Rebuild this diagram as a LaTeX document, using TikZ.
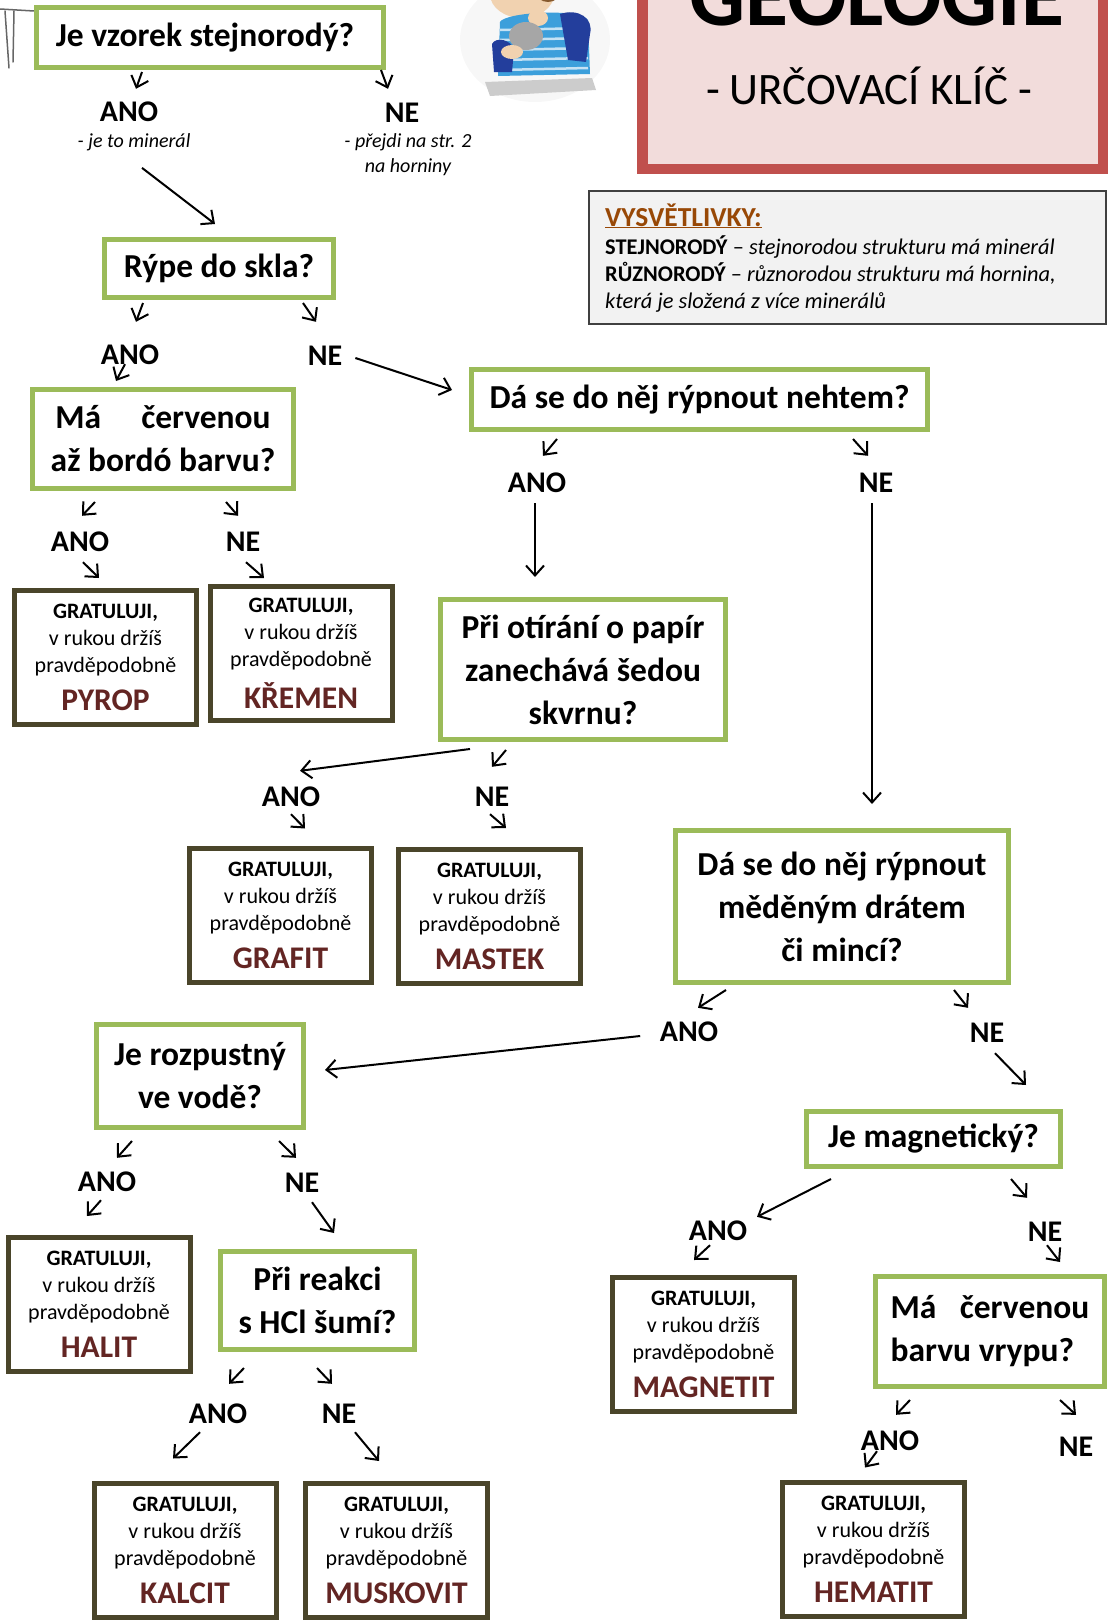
\documentclass[tikz,border=0pt]{standalone}
\usepackage{fontspec}
\setmainfont{Carlito}
\usetikzlibrary{arrows.meta}

\definecolor{qgreen}{HTML}{9BBB59}
\definecolor{resolive}{HTML}{4A452A}
\definecolor{mineral}{HTML}{632523}
\definecolor{titlered}{HTML}{C0504D}
\definecolor{titlepink}{HTML}{F2DCDB}
\definecolor{legendgray}{HTML}{F2F2F2}
\definecolor{legendhead}{HTML}{984806}
\definecolor{shirt}{HTML}{3C9FDB}
\definecolor{sleeve}{HTML}{233E9C}
\definecolor{skin}{HTML}{F1D2B0}

% text of every result box
\newcommand{\gratuluji}[1]{\textbf{GRATULUJI,}\\v rukou držíš\\pravděpodobně\\[11pt]{\bfseries\fontsize{31.5}{36}\selectfont\color{mineral}#1}}

\begin{document}
\begin{tikzpicture}[x=1pt, y=-1pt,
    question/.style={draw=qgreen, line width=5pt, fill=white, align=center, inner sep=0pt,
        font=\bfseries\fontsize{33.5}{43}\selectfont},
    result/.style={draw=resolive, line width=5pt, fill=white, align=center, inner sep=0pt,
        minimum width=182pt, minimum height=134pt, font=\fontsize{22}{27}\selectfont},
    answer/.style={inner sep=0pt, text height=20pt, text depth=0pt, font=\bfseries\fontsize{30}{36}\selectfont},
    note/.style={inner sep=0pt, align=center, font=\itshape\fontsize{20}{25}\selectfont},
    tick/.style={-{Straight Barb[length=10pt,width=18pt]}, line width=2pt}]
\useasboundingbox (0,0) rectangle (1108,1622);

% chair in the corner
\draw[black!60, line width=1.5pt, line cap=round] (0,9) -- (34,11);
\draw[black!60, line width=1.5pt, line cap=round] (5,11) -- (9,68) (14,11) -- (13,62);

% boy with a stone
\fill[black!3] (535,40) ellipse (75 and 62);
\fill[black!20] (485,82) -- (592,78) -- (596,90) -- (490,96) -- cycle;
\fill[skin] (522,-6) ellipse (32 and 24);
\fill[brown!70!black] (548,-8) ellipse (12 and 10);
\fill[shirt] (500,22) .. controls (505,12) and (580,8) .. (588,20) -- (590,74) -- (498,76) -- cycle;
\foreach \y in {30,40,50,60,70}
    \draw[white!70!shirt, line width=2.5pt] (500,\y) -- (588,\y-2);
\fill[sleeve] (492,44) .. controls (496,36) and (512,40) .. (514,50) -- (512,72) -- (494,72) -- cycle;
\fill[sleeve] (560,14) .. controls (578,8) and (594,18) .. (590,34) -- (586,62) -- (568,60) -- cycle;
\fill[skin] (538,18) ellipse (10 and 8);
\fill[black!35] (526,36) ellipse (17 and 14);
\fill[skin] (512,52) ellipse (11 and 7);

% title
\draw[line width=10.5pt, draw=titlered, fill=titlepink] (642.25,-20) rectangle (1102.75,168.75);
\node[anchor=base, inner sep=0pt, font=\bfseries\fontsize{88}{100}\selectfont] (title) at (877,25) {GEOLOGIE};
\node[anchor=base, inner sep=0pt, font=\fontsize{45}{52}\selectfont] (subtitle) at (869,104) {- URČOVACÍ KLÍČ -};

% legend
\draw[line width=2pt, draw=black!75, fill=legendgray] (589,191) rectangle (1106,324);
\node[anchor=base west, inner sep=0pt, text=legendhead, font=\bfseries\fontsize{27.5}{30}\selectfont] (head) at (605,226) {\underline{VYSVĚTLIVKY:}};
\node[anchor=base west, inner sep=0pt, font=\fontsize{22.4}{27}\selectfont] (line1) at (605,254) {\textbf{STEJNORODÝ} – \textit{stejnorodou strukturu má minerál}};
\node[anchor=base west, inner sep=0pt, font=\fontsize{22.4}{27}\selectfont] (line2) at (605,281) {\textbf{RŮZNORODÝ} – \textit{různorodou strukturu má hornina,}};
\node[anchor=base west, inner sep=0pt, font=\fontsize{22.4}{27}\selectfont] (line3) at (605,308) {\textit{která je složená z více minerálů}};

% questions
\node[question, minimum width=347pt, minimum height=60pt] (q1) at (210,37.5) {Je vzorek stejnorodý?\hspace{10pt}};
\node[question, minimum width=229pt, minimum height=58pt] (q2) at (219,268.5) {Rýpe do skla?};
\node[question, minimum width=261pt, minimum height=99pt] (q3) at (163,439) {Má\hspace{1.2em}červenou\\až bordó barvu?};
\node[question, minimum width=456pt, minimum height=60pt] (q4) at (699.5,399.5) {Dá se do něj rýpnout nehtem?};
\node[question, minimum width=285pt, minimum height=140pt] (q5) at (583,669.5) {Při otírání o papír\\zanechává šedou\\skvrnu?};
\node[question, minimum width=333pt, minimum height=152pt] (q6) at (842,906.5) {Dá se do něj rýpnout\\měděným drátem\\či mincí?};
\node[question, minimum width=207pt, minimum height=103pt] (q7) at (200,1076) {Je rozpustný\\ve vodě?};
\node[question, minimum width=194pt, minimum height=98pt] (q8) at (317.5,1300.5) {Při reakci\\s HCl šumí?};
\node[question, minimum width=254pt, minimum height=55pt] (q9) at (933.5,1139) {Je magnetický?};
\node[question, minimum width=229pt, minimum height=110pt, align=left] (q10) at (990,1331.5) {Má\hspace{0.7em}červenou\\barvu vrypu?};

% answers
\node[answer] (a1) at (129,111) {ANO};
\node[answer] (n1) at (402,112) {NE};
\node[note] (a1note) at (134,142) {- je to minerál};
\node[note] (n1note) at (408,155) {- přejdi na str. 2\\na horniny};
\node[answer] (a2) at (130,354) {ANO};
\node[answer] (n2) at (325,355) {NE};
\node[answer] (a3) at (80,541) {ANO};
\node[answer] (n3) at (243,541) {NE};
\node[answer] (a4) at (537,482) {ANO};
\node[answer] (n4) at (876,482) {NE};
\node[answer] (a5) at (291,796) {ANO};
\node[answer] (n5) at (492,796) {NE};
\node[answer] (a6) at (689,1031) {ANO};
\node[answer] (n6) at (987,1032) {NE};
\node[answer] (a7) at (107,1181) {ANO};
\node[answer] (n7) at (302,1182) {NE};
\node[answer] (a8) at (218,1413) {ANO};
\node[answer] (n8) at (339,1413) {NE};
\node[answer] (a9) at (718,1230) {ANO};
\node[answer] (n9) at (1045,1231) {NE};
\node[answer] (a10) at (890,1440) {ANO};
\node[answer] (n10) at (1076,1446) {NE};

% results
\node[result] (pyrop) at (105.5,657.5) {\gratuluji{PYROP}};
\node[result] (kremen) at (301,653.5) {\gratuluji{KŘEMEN}};
\node[result] (grafit) at (280.5,915) {\gratuluji{GRAFIT}};
\node[result] (mastek) at (489.5,916.5) {\gratuluji{MASTEK}};
\node[result] (halit) at (99,1304.5) {\gratuluji{HALIT}};
\node[result] (kalcit) at (185,1550) {\gratuluji{KALCIT}};
\node[result] (muskovit) at (396.5,1550.5) {\gratuluji{MUSKOVIT}};
\node[result] (magnetit) at (703.5,1344.5) {\gratuluji{MAGNETIT}};
\node[result] (hematit) at (873.5,1549) {\gratuluji{HEMATIT}};

% arrows
\draw[tick] ([shift={(-68,2)}]q1.south) -- ([shift={(7,-12)}]a1.north);
\draw[tick] ([shift={(171,0)}]q1.south) -- ([shift={(-14,-13)}]n1.north);
\draw[tick] ([shift={(8,17)}]a1note.south) -- ([shift={(-4,-13)}]q2.north);

\draw[tick] ([shift={(-76,3)}]q2.south) -- ([shift={(6,-22)}]a2.north);
\draw[tick] ([shift={(84,3)}]q2.south) -- ([shift={(-9,-23)}]n2.north);
\draw[tick] ([shift={(-5,0)}]a2.south) -- ([shift={(-47,-6)}]q3.north);
\draw[tick] ([shift={(13,3)}]n2.east) -- ([shift={(-17,-9.5)}]q4.west);

\draw[tick] ([shift={(-68,11)}]q3.south) -- ([shift={(2,-15)}]a3.north);
\draw[tick] ([shift={(63,11)}]q3.south) -- ([shift={(-5,-15)}]n3.north);
\draw[tick] ([shift={(3,11)}]a3.south) -- ([shift={(-6.5,-10)}]pyrop.north);
\draw[tick] ([shift={(3,11)}]n3.south) -- ([shift={(-37,-6)}]kremen.north);

\draw[tick] ([shift={(-142.5,7)}]q4.south) -- ([shift={(6,-16)}]a4.north);
\draw[tick] ([shift={(153.5,7)}]q4.south) -- ([shift={(-8,-16)}]n4.north);
\draw[tick] ([shift={(-2,11)}]a4.south) -- ([shift={(-48,-20)}]q5.north);
\draw[tick] ([shift={(-4,11)}]n4.south) -- ([shift={(30,-24)}]q6.north);

\draw[tick] ([shift={(-113,7)}]q5.south) -- ([shift={(9,-15)}]a5.north);
\draw[tick] ([shift={(-77,8)}]q5.south) -- ([shift={(0,-19)}]n5.north);
\draw[tick] ([shift={(0,8)}]a5.south) -- ([shift={(24.5,-17)}]grafit.north);
\draw[tick] ([shift={(-2,8)}]n5.south) -- ([shift={(16.5,-19)}]mastek.north);

\draw[tick] ([shift={(-116,5)}]q6.south) -- ([shift={(9,-13)}]a6.north);
\draw[tick] ([shift={(112,5)}]q6.south) -- ([shift={(-19,-14)}]n6.north);
\draw[tick] ([shift={(-19.5,5)}]a6.west) -- ([shift={(19,-6)}]q7.east);
\draw[tick] ([shift={(8,11)}]n6.south) -- ([shift={(92.5,-24)}]q9.north);

\draw[tick] ([shift={(-68,11)}]q7.south) -- ([shift={(10,-13)}]a7.north);
\draw[tick] ([shift={(79,11)}]q7.south) -- ([shift={(-6,-14)}]n7.north);
\draw[tick] ([shift={(-6,9)}]a7.south) -- ([shift={(-12,-19)}]halit.north);
\draw[tick] ([shift={(10,10)}]n7.south) -- ([shift={(16.5,-16)}]q8.north);

\draw[tick] ([shift={(-73.5,16)}]q8.south) -- ([shift={(11,-19)}]a8.north);
\draw[tick] ([shift={(-0.5,16)}]q8.south) -- ([shift={(-7,-19)}]n8.north);
\draw[tick] ([shift={(-18,9)}]a8.south) -- ([shift={(-12,-22)}]kalcit.north);
\draw[tick] ([shift={(16,9)}]n8.south) -- ([shift={(-17.5,-20)}]muskovit.north);

\draw[tick] ([shift={(-102.5,10)}]q9.south) -- ([shift={(39,-3)}]a9.north);
\draw[tick] ([shift={(77.5,10)}]q9.south) -- ([shift={(-18,-23)}]n9.north);
\draw[tick] ([shift={(-8,5)}]a9.south) -- ([shift={(-9.5,-15)}]magnetit.north);
\draw[tick] ([shift={(2,4)}]n9.south) -- ([shift={(70,-12)}]q10.north);

\draw[tick] ([shift={(-80,11)}]q10.south) -- ([shift={(6,-15)}]a10.north);
\draw[tick] ([shift={(70,11)}]q10.south) -- ([shift={(0,-21)}]n10.north);
\draw[tick] ([shift={(-13,1)}]a10.south) -- ([shift={(-8.5,-12)}]hematit.north);
\end{tikzpicture}
\end{document}
